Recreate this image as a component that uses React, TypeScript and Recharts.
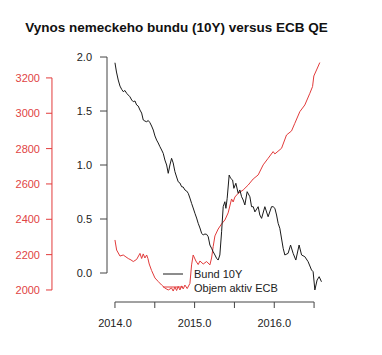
import React from 'react';
import { LineChart, Line, XAxis, YAxis, Legend, ReferenceLine } from 'recharts';

const TITLE = 'Vynos nemeckeho bundu (10Y) versus ECB QE';
const SERIES_NAMES = ['Bund 10Y', 'Objem aktiv ECB'];

// Bund 10Y yield: [time (decimal year), yield %]
const bundT = [
  2014.0, 2014.019, 2014.041, 2014.063, 2014.084, 2014.104, 2014.125, 2014.147, 2014.167, 2014.188,
  2014.21, 2014.23, 2014.251, 2014.272, 2014.292, 2014.314, 2014.335, 2014.355, 2014.376, 2014.398,
  2014.418, 2014.439, 2014.46, 2014.481, 2014.502, 2014.523, 2014.543, 2014.565, 2014.586, 2014.606,
  2014.627, 2014.649, 2014.669, 2014.69, 2014.711, 2014.731, 2014.753, 2014.774, 2014.794, 2014.816,
  2014.837, 2014.857, 2014.878, 2014.9, 2014.92, 2014.941, 2014.962, 2014.982, 2015.004, 2015.025,
  2015.045, 2015.067, 2015.088, 2015.108, 2015.129, 2015.151, 2015.171, 2015.192, 2015.213, 2015.233,
  2015.255, 2015.276, 2015.296, 2015.317, 2015.339, 2015.359, 2015.38, 2015.393, 2015.409, 2015.434,
  2015.452, 2015.477, 2015.493, 2015.518, 2015.547, 2015.568, 2015.59, 2015.61, 2015.631, 2015.66,
  2015.694, 2015.715, 2015.736, 2015.757, 2015.798, 2015.819, 2015.841, 2015.882, 2015.923, 2015.966,
  2015.986, 2016.008, 2016.029, 2016.049, 2016.07, 2016.112, 2016.133, 2016.174, 2016.205, 2016.237,
  2016.271, 2016.312, 2016.343, 2016.384, 2016.425, 2016.468, 2016.488, 2016.51, 2016.538, 2016.564,
  2016.593,
];
const bundY = [
  1.947, 1.861, 1.787, 1.731, 1.701, 1.679, 1.69, 1.664, 1.648, 1.632,
  1.602, 1.586, 1.593, 1.556, 1.546, 1.509, 1.481, 1.417, 1.407, 1.401,
  1.412, 1.392, 1.361, 1.324, 1.269, 1.231, 1.204, 1.169, 1.139, 1.108,
  1.046, 1.0, 0.923, 1.0, 1.062, 1.019, 0.938, 0.889, 0.845, 0.833,
  0.799, 0.796, 0.769, 0.759, 0.738, 0.694, 0.645, 0.602, 0.553, 0.509,
  0.46, 0.417, 0.368, 0.352, 0.361, 0.358, 0.336, 0.259, 0.229, 0.197,
  0.167, 0.136, 0.12, 0.167, 0.382, 0.614, 0.66, 0.599, 0.692, 0.907,
  0.877, 0.861, 0.784, 0.831, 0.738, 0.769, 0.706, 0.676, 0.63, 0.753,
  0.706, 0.614, 0.614, 0.566, 0.614, 0.537, 0.506, 0.614, 0.521, 0.614,
  0.614, 0.599, 0.537, 0.46, 0.414, 0.229, 0.167, 0.182, 0.259, 0.182,
  0.12, 0.259, 0.167, 0.151, 0.105, 0.028, 0.012, -0.157, -0.065, -0.034,
  -0.081,
];

// ECB balance sheet volume: [time (decimal year), bn EUR]
const ecbT = [
  2014.0, 2014.021, 2014.063, 2014.104, 2014.138, 2014.167, 2014.201, 2014.23, 2014.272, 2014.314,
  2014.335, 2014.355, 2014.376, 2014.398, 2014.414, 2014.43, 2014.46, 2014.502, 2014.543, 2014.586,
  2014.627, 2014.669, 2014.711, 2014.731, 2014.753, 2014.774, 2014.794, 2014.816, 2014.837, 2014.857,
  2014.878, 2014.907, 2014.941, 2014.962, 2014.982, 2015.016, 2015.045, 2015.067, 2015.108, 2015.151,
  2015.192, 2015.213, 2015.233, 2015.255, 2015.296, 2015.339, 2015.38, 2015.421, 2015.464, 2015.484,
  2015.506, 2015.547, 2015.61, 2015.673, 2015.735, 2015.798, 2015.861, 2015.923, 2015.986, 2016.008,
  2016.092, 2016.154, 2016.217, 2016.258, 2016.321, 2016.384, 2016.447, 2016.481, 2016.497, 2016.531,
  2016.572,
];
const ecbY = [
  2283, 2226, 2192, 2198, 2187, 2178, 2170, 2161, 2173, 2207,
  2178, 2204, 2181, 2198, 2178, 2147, 2110, 2068, 2048, 2028,
  2011, 2000, 2011, 1994, 2017, 1997, 2020, 2000, 2023, 2006,
  2028, 2008, 2037, 2142, 2198, 2164, 2144, 2164, 2147, 2161,
  2142, 2181, 2245, 2306, 2345, 2374, 2396, 2436, 2515, 2498,
  2526, 2547, 2566, 2594, 2628, 2651, 2708, 2745, 2783, 2770,
  2802, 2877, 2900, 2943, 3009, 3047, 3113, 3151, 3211, 3245,
  3287,
];

const xTicks = [2014.0, 2014.5, 2015.0, 2015.5, 2016.0, 2016.5];
const bundTicks = [0, 0.5, 1.0, 1.5, 2.0];
const ecbTicks = [2000, 2200, 2400, 2600, 2800, 3000, 3200];

const X_DOMAIN: [number, number] = [2013.9, 2016.7];
const BUND_DOMAIN: [number, number] = [-0.2685, 2.065];
const ECB_DOMAIN: [number, number] = [1932, 3358];
const ECB_AXIS_T = 2013.209; // horizontal place of the detached red axis line

const bundData = bundT.map((t, i) => ({ t, v: bundY[i] }));
const ecbData = ecbT.map((t, i) => ({ t, v: ecbY[i] }));

const RED = '#e23b3b';
const RED_TEXT = '#df4444';
const AXIS = '#444';
const FONT = '"Liberation Sans", Arial, sans-serif';

const LegendBox = () => (
  <svg width={140} height={30} style={{ display: 'block' }}>
    <line x1={3} x2={23} y1={8} y2={8} stroke="#1a1a1a" strokeWidth={1} />
    <text x={34} y={8} dy="0.35em" fontSize={11} fill="#222" fontFamily={FONT}>
      {SERIES_NAMES[0]}
    </text>
    <line x1={3} x2={23} y1={21} y2={21} stroke={RED} strokeWidth={1} />
    <text x={34} y={22} dy="0.35em" fontSize={11} fill="#222" fontFamily={FONT}>
      {SERIES_NAMES[1]}
    </text>
  </svg>
);

export default function App() {
  return (
    <div
      style={{
        position: 'absolute',
        left: 0,
        top: 0,
        width: 382,
        height: 355,
        background: '#fff',
        fontFamily: FONT,
      }}
    >
      <div
        style={{
          position: 'absolute',
          left: 0,
          top: 19,
          width: 353,
          textAlign: 'center',
          fontSize: 13.5,
          lineHeight: '18px',
          fontWeight: 'bold',
          color: '#111',
        }}
      >
        {TITLE}
      </div>
      <LineChart width={382} height={355} margin={{ top: 50, right: 52, bottom: 23, left: 0 }}>
        <XAxis
          dataKey="t"
          type="number"
          domain={X_DOMAIN}
          allowDataOverflow
          ticks={xTicks}
          interval={0}
          axisLine={false}
          tickLine={{ stroke: AXIS }}
          tickSize={6}
          tickMargin={11}
          height={30}
          tick={{ fontSize: 11, fill: '#222', fontFamily: FONT }}
          tickFormatter={(v: number) => (Math.abs(v % 1) < 1e-9 ? v.toFixed(1) : '')}
        />
        <YAxis
          yAxisId="bund"
          orientation="left"
          type="number"
          domain={BUND_DOMAIN}
          allowDataOverflow
          ticks={bundTicks}
          interval={0}
          width={55}
          axisLine={false}
          tickLine={{ stroke: AXIS }}
          tickSize={7}
          tickMargin={8}
          tick={{ fontSize: 11, fill: '#222', fontFamily: FONT }}
          tickFormatter={(v: number) => v.toFixed(1)}
        />
        <YAxis
          yAxisId="ecb"
          orientation="left"
          type="number"
          domain={ECB_DOMAIN}
          allowDataOverflow
          ticks={ecbTicks}
          interval={0}
          width={52}
          axisLine={false}
          tickLine={{ stroke: RED }}
          tickSize={6}
          tickMargin={6}
          tick={{ fontSize: 11, fill: RED_TEXT, fontFamily: FONT }}
        />
        <ReferenceLine
          yAxisId="bund"
          segment={[
            { x: X_DOMAIN[0], y: bundTicks[0] },
            { x: X_DOMAIN[0], y: bundTicks[bundTicks.length - 1] },
          ]}
          stroke={AXIS}
          ifOverflow="visible"
        />
        <ReferenceLine
          yAxisId="bund"
          segment={[
            { x: xTicks[0], y: BUND_DOMAIN[0] },
            { x: xTicks[xTicks.length - 1], y: BUND_DOMAIN[0] },
          ]}
          stroke={AXIS}
          ifOverflow="visible"
        />
        <ReferenceLine
          yAxisId="ecb"
          segment={[
            { x: ECB_AXIS_T, y: ecbTicks[0] },
            { x: ECB_AXIS_T, y: ecbTicks[ecbTicks.length - 1] },
          ]}
          stroke={RED}
          ifOverflow="visible"
        />
        <Line
          yAxisId="ecb"
          data={ecbData}
          dataKey="v"
          name={SERIES_NAMES[1]}
          type="linear"
          stroke={RED}
          strokeWidth={1}
          dot={false}
          isAnimationActive={false}
        />
        <Line
          yAxisId="bund"
          data={bundData}
          dataKey="v"
          name={SERIES_NAMES[0]}
          type="linear"
          stroke="#1a1a1a"
          strokeWidth={1}
          dot={false}
          isAnimationActive={false}
        />
        <Legend
          layout="horizontal"
          verticalAlign="middle"
          align="center"
          wrapperStyle={{ left: 160, top: 266, width: 140, height: 30 }}
          content={() => <LegendBox />}
        />
      </LineChart>
    </div>
  );
}
